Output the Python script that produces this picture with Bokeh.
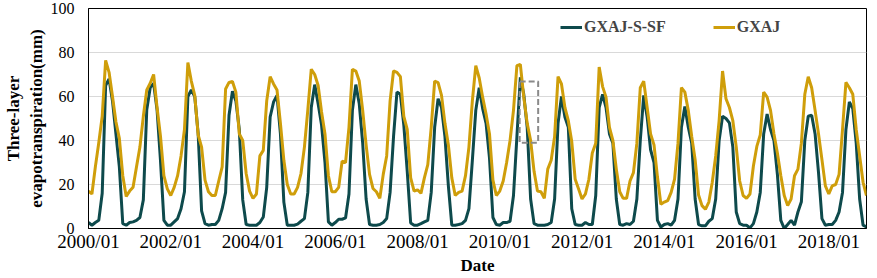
from bokeh.plotting import figure
from bokeh.models import (Range1d, FixedTicker, Legend, LegendItem, BoxAnnotation,
                          ColumnDataSource)
from bokeh.embed import file_html
from bokeh.resources import INLINE

# ---- data -------------------------------------------------------------
tick_labels = ["2000/01", "2002/01", "2004/01", "2006/01", "2008/01",
               "2010/01", "2012/01", "2014/01", "2016/01", "2018/01"]
tick_months = [0, 24, 48, 72, 96, 120, 144, 168, 192, 216]

gxaj_s_sf = [
    2.7, 1.5, 2.7, 3.7, 16, 65, 68, 58, 43, 28, 2.2, 1.5,            # 2000
    2.7, 3, 3.7, 5, 13, 54, 64, 66, 54, 31, 3.7, 1.5,                # 2001
    1.5, 3, 4.5, 9, 16.7, 60, 63, 60, 43, 8, 2.2, 1.5,               # 2002
    1.8, 1.8, 3.7, 9, 16.4, 51.5, 62.4, 58, 45, 13, 1.8, 1.5,        # 2003
    1.5, 1.5, 2.7, 5.2, 18.7, 50.7, 57.5, 60.5, 43, 12, 1.5, 1.5,    # 2004
    1.5, 2, 3.3, 4.5, 16.4, 55, 65.4, 56.7, 47, 30, 3, 1.5,          # 2005
    2.7, 4.2, 4.2, 4.8, 15.7, 53.7, 65.4, 56.7, 38.8, 13.4, 1.8, 1.5,  # 2006
    1.5, 1.8, 2.7, 4.5, 16.4, 41.8, 62, 61, 47, 26, 2.5, 1.5,        # 2007
    1.5, 2.2, 3, 3.7, 16.4, 46, 59, 55, 41.8, 19.4, 1.5, 1.5,        # 2008
    1.8, 2.2, 3.7, 9, 31, 53.7, 64, 54.5, 47.8, 32, 5, 1.8,          # 2009
    1.5, 2.7, 2.7, 3.3, 15, 41.8, 68.7, 61, 46, 13.4, 2.2, 1.5,      # 2010
    1.5, 1.5, 1.8, 2.7, 13.4, 47.8, 60, 50.7, 46, 9, 1.8, 1.5,       # 2011
    1.5, 2.7, 1.8, 1.8, 15, 55, 61, 55, 43, 38.8, 13.4, 1.8,         # 2012
    1.5, 2.2, 1.8, 3.3, 13.4, 40, 60.5, 50.7, 35.8, 30, 3.7, 0.7,    # 2013
    1.8, 2.2, 1.5, 3.7, 13.4, 46, 55.5, 46, 38.8, 13.4, 1.8, 1.2,    # 2014
    1.2, 3.3, 4.5, 13.4, 40, 51, 50, 48, 37, 7.5, 2.2, 1.5,          # 2015
    1.5, 0.3, 2.2, 7.5, 16.4, 43, 52, 45, 40, 24.6, 3.7, 0,          # 2016
    1.8, 3.7, 1.5, 7.5, 12.2, 40, 51, 51.5, 43, 25.4, 4.5, 1.5,      # 2017
    1.8, 1.8, 3.7, 7.5, 16.4, 45, 57.5, 54.5, 38.8, 13.4, 1.5, 0.7,  # 2018
]

gxaj = [
    17, 15.7, 28, 39, 51, 76.4, 71, 60, 48.5, 41, 24, 14.6,          # 2000
    17, 18.7, 28, 37, 51, 63, 66, 70, 55, 42, 24, 18,                # 2001
    15, 18.7, 24, 33, 45, 75.4, 67, 60.5, 42.5, 37, 22, 16.7,        # 2002
    15, 15, 21.6, 28, 63.4, 66.4, 66.8, 62, 43, 40, 25, 17,          # 2003
    13.7, 15.7, 33, 35.5, 58, 69, 65.7, 63, 47.8, 31, 20, 15.7,      # 2004
    15.7, 18.7, 25, 37, 54, 72.4, 70, 65, 53, 43, 24, 16.7,          # 2005
    16.7, 18.7, 30.6, 30, 46, 72.4, 71.6, 67, 53.7, 38, 24.6, 18.2,  # 2006
    16.7, 13.7, 24.6, 33, 58, 71.6, 71, 69, 51, 45, 23, 17,          # 2007
    17.6, 16, 23, 29, 46, 67, 66.3, 60.5, 47.8, 38, 23, 15,          # 2008
    16.4, 17, 24, 37, 58, 74, 68.4, 59.7, 52, 43, 22, 15,            # 2009
    17, 21.6, 30, 40, 53.7, 74, 74.6, 59.7, 47.8, 40, 26, 17,        # 2010
    16.7, 13.7, 27, 31, 41.8, 69, 65.7, 55, 49, 39.5, 22.4, 18,      # 2011
    13.4, 15.7, 22.4, 34.3, 38.8, 73.4, 64.5, 59.7, 46, 40, 27, 16.7,  # 2012
    13.7, 13.7, 21.6, 25.4, 38.8, 64, 67, 55, 43, 38, 23.5, 11,      # 2013
    12, 12.7, 16.4, 22.4, 38.8, 64, 62, 53.7, 41.8, 31.3, 15.2, 10.4,  # 2014
    8.7, 12, 21, 33, 49, 71.6, 59, 55, 49, 37, 21.6, 15,             # 2015
    13.7, 15.7, 28.4, 37.3, 42.5, 62, 59.7, 53.7, 43, 34.3, 24, 15,  # 2016
    10.4, 13.4, 24, 27, 38.8, 61, 69, 64, 53.7, 43, 31.3, 19.4,      # 2017
    15.7, 19.4, 20, 24.6, 45, 66.4, 64, 61, 45, 33, 21, 15,          # 2018
]

y_ticks = [0, 20, 40, 60, 80, 100]

# dashed highlight box (data units)
box_left, box_right, box_bottom, box_top = 125.8, 131.2, 39, 66.8

# ---- figure -----------------------------------------------------------
months = list(range(len(gxaj)))
src = ColumnDataSource(dict(m=months, sf=gxaj_s_sf, gx=gxaj))

GREEN = "#0E4A4C"
GOLD = "#CF9E0A"
FONT = "Liberation Serif"

p = figure(width=869, height=277, output_backend="svg", toolbar_location=None,
           x_range=Range1d(0, len(gxaj) - 1), y_range=Range1d(0, 100),
           min_border_left=73, min_border_right=3, min_border_top=8,
           min_border_bottom=44)

r1 = p.line("m", "sf", source=src, line_color=GREEN, line_width=3)
r2 = p.line("m", "gx", source=src, line_color=GOLD, line_width=3)

p.add_layout(BoxAnnotation(left=box_left, right=box_right, bottom=box_bottom,
                           top=box_top, fill_alpha=0, line_color="#8A8A8A",
                           line_alpha=1.0, line_width=2, line_dash="6 3"))

p.outline_line_color = "black"
p.outline_line_width = 1
p.background_fill_color = "white"
p.border_fill_color = "white"

p.xgrid.visible = False
p.ygrid.grid_line_color = "#D9D9D9"
p.ygrid.grid_line_width = 1
p.ygrid.ticker = FixedTicker(ticks=y_ticks)

p.yaxis.ticker = FixedTicker(ticks=y_ticks)
p.xaxis.ticker = FixedTicker(ticks=tick_months)
p.xaxis.major_label_overrides = {m: lab for m, lab in zip(tick_months, tick_labels)}

for ax in (p.xaxis[0], p.yaxis[0]):
    ax.axis_line_color = "black"
    ax.major_tick_line_color = None
    ax.minor_tick_line_color = None
    ax.major_tick_out = 0
    ax.major_tick_in = 0
    ax.major_label_text_font = FONT
    ax.major_label_text_color = "black"
    ax.axis_label_text_font = FONT
    ax.axis_label_text_font_style = "bold"
    ax.axis_label_text_font_size = "17px"
    ax.axis_label_text_color = "black"

p.xaxis.major_label_text_font_size = "19px"
p.yaxis.major_label_text_font_size = "16px"
p.xaxis.axis_label = "Date"
p.xaxis.major_label_standoff = 2
p.xaxis.axis_label_standoff = 1
p.yaxis.axis_label = "Three-layer\nevapotranspiration(mm)"
p.yaxis.major_label_standoff = 14
p.yaxis.axis_label_standoff = 2

legend = Legend(items=[LegendItem(label="GXAJ-S-SF", renderers=[r1]),
                       LegendItem(label="GXAJ", renderers=[r2])],
                location=(472, 191), orientation="horizontal",
                border_line_color=None, background_fill_alpha=0,
                label_text_font=FONT, label_text_font_style="bold",
                label_text_font_size="16px", glyph_width=22, glyph_height=20,
                label_standoff=2, spacing=47, padding=0, margin=0)
p.add_layout(legend)

open("out.html", "w").write(file_html(p, INLINE))
